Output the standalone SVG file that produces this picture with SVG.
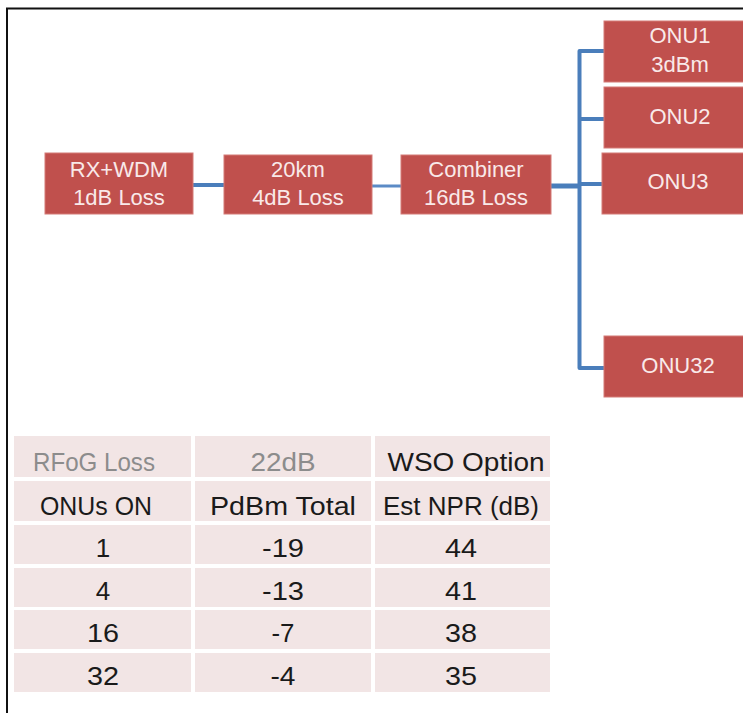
<svg xmlns="http://www.w3.org/2000/svg" width="743" height="713" viewBox="0 0 743 713">
<style>
.box{fill:#c0504d;stroke:#d47a77;stroke-width:1}
.bt{font-family:"Liberation Sans",Arial,sans-serif;font-size:22px;fill:#f9e9e9;text-anchor:middle}
.cell{fill:#f2e5e5}
.tt{font-family:"Liberation Sans",Arial,sans-serif;font-size:26px;fill:#1a1a1a;text-anchor:middle}
.gray{fill:#8c8c8c}
.ln{fill:none;stroke:#4a7ebb;stroke-linecap:butt;stroke-linejoin:round}
</style>
<rect x="0" y="0" width="743" height="713" fill="#ffffff"/>
<g id="frame">
<path d="M7,713 V8.5 H743" fill="none" stroke="#111" stroke-width="2"/>
</g>
<g id="connectors">
<path class="ln" d="M193,185 H224" stroke-width="4"/>
<path class="ln" d="M372,186 H401" stroke-width="3" style="stroke:#5b8bc6"/>
<path class="ln" d="M551,186 H579" stroke-width="5"/>
<path class="ln" d="M604,51 H579.5 V368 H604" stroke-width="4"/>
<path class="ln" d="M579.5,119 H604" stroke-width="4"/>
<path class="ln" d="M579.5,184 H603" stroke-width="4"/>
</g>
<g id="rxwdm">
<rect class="box" x="45" y="153" width="148" height="61"/>
<text class="bt" x="119" y="177">RX+WDM</text>
<text class="bt" x="119" y="205">1dB Loss</text>
</g>
<g id="fiber20km">
<rect class="box" x="224" y="155" width="148" height="59"/>
<text class="bt" x="298" y="177">20km</text>
<text class="bt" x="298" y="205">4dB Loss</text>
</g>
<g id="combiner">
<rect class="box" x="401" y="155" width="150" height="59"/>
<text class="bt" x="476" y="177">Combiner</text>
<text class="bt" x="476" y="205">16dB Loss</text>
</g>
<g id="onu1">
<rect class="box" x="604" y="21" width="160" height="61"/>
<text class="bt" x="680" y="43">ONU1</text>
<text class="bt" x="680" y="72">3dBm</text>
</g>
<g id="onu2">
<rect class="box" x="604" y="87" width="160" height="61"/>
<text class="bt" x="680" y="124">ONU2</text>
</g>
<g id="onu3">
<rect class="box" x="602" y="153" width="160" height="61"/>
<text class="bt" x="678" y="189">ONU3</text>
</g>
<g id="onu32">
<rect class="box" x="604" y="336" width="160" height="61"/>
<text class="bt" x="678" y="373">ONU32</text>
</g>
<g id="table">
<rect class="cell" x="14" y="436" width="177" height="41"/>
<rect class="cell" x="195" y="436" width="176" height="41"/>
<rect class="cell" x="375" y="436" width="175" height="41"/>
<rect class="cell" x="14" y="481" width="177" height="40"/>
<rect class="cell" x="195" y="481" width="176" height="40"/>
<rect class="cell" x="375" y="481" width="175" height="40"/>
<rect class="cell" x="14" y="525" width="177" height="39"/>
<rect class="cell" x="195" y="525" width="176" height="39"/>
<rect class="cell" x="375" y="525" width="175" height="39"/>
<rect class="cell" x="14" y="568" width="177" height="39"/>
<rect class="cell" x="195" y="568" width="176" height="39"/>
<rect class="cell" x="375" y="568" width="175" height="39"/>
<rect class="cell" x="14" y="610" width="177" height="39"/>
<rect class="cell" x="195" y="610" width="176" height="39"/>
<rect class="cell" x="375" y="610" width="175" height="39"/>
<rect class="cell" x="14" y="653" width="177" height="39"/>
<rect class="cell" x="195" y="653" width="176" height="39"/>
<rect class="cell" x="375" y="653" width="175" height="39"/>
<text class="tt gray" x="94" y="471" textLength="122" lengthAdjust="spacingAndGlyphs">RFoG Loss</text>
<text class="tt gray" x="283" y="471" textLength="65" lengthAdjust="spacingAndGlyphs">22dB</text>
<text class="tt" x="466" y="471" textLength="157" lengthAdjust="spacingAndGlyphs">WSO Option</text>
<text class="tt" x="96" y="515" textLength="112" lengthAdjust="spacingAndGlyphs">ONUs ON</text>
<text class="tt" x="283" y="515" textLength="146" lengthAdjust="spacingAndGlyphs">PdBm Total</text>
<text class="tt" x="461" y="515" textLength="156" lengthAdjust="spacingAndGlyphs">Est NPR (dB)</text>
<text class="tt" x="103" y="557">1</text>
<text class="tt" x="283" y="557" textLength="42" lengthAdjust="spacingAndGlyphs">-19</text>
<text class="tt" x="461" y="557" textLength="32" lengthAdjust="spacingAndGlyphs">44</text>
<text class="tt" x="103" y="600">4</text>
<text class="tt" x="283" y="600" textLength="42" lengthAdjust="spacingAndGlyphs">-13</text>
<text class="tt" x="461" y="600" textLength="32" lengthAdjust="spacingAndGlyphs">41</text>
<text class="tt" x="103" y="642" textLength="32" lengthAdjust="spacingAndGlyphs">16</text>
<text class="tt" x="283" y="642" textLength="23" lengthAdjust="spacingAndGlyphs">-7</text>
<text class="tt" x="461" y="642" textLength="32" lengthAdjust="spacingAndGlyphs">38</text>
<text class="tt" x="103" y="685" textLength="32" lengthAdjust="spacingAndGlyphs">32</text>
<text class="tt" x="283" y="685" textLength="25" lengthAdjust="spacingAndGlyphs">-4</text>
<text class="tt" x="461" y="685" textLength="32" lengthAdjust="spacingAndGlyphs">35</text>
</g>
</svg>
